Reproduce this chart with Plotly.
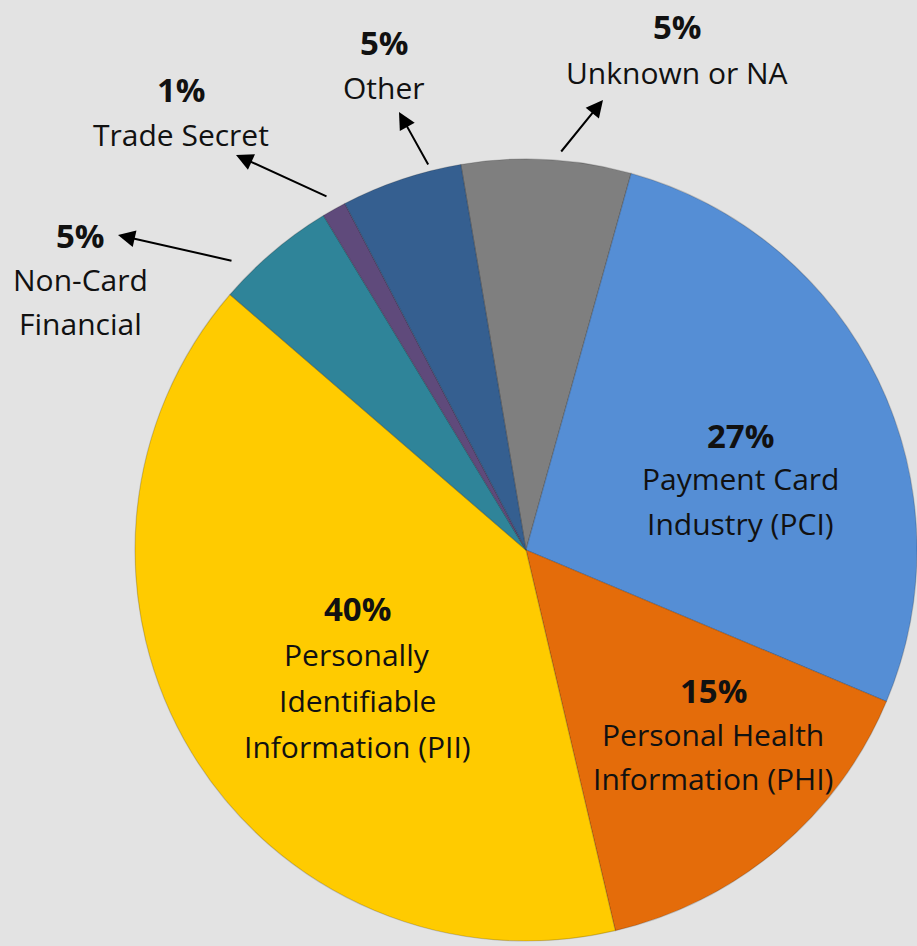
import plotly.graph_objects as go

# ---- data ----
categories = ["Unknown or NA", "Payment Card Industry (PCI)", "Personal Health Information (PHI)",
              "Personally Identifiable Information (PII)", "Non-Card Financial", "Trade Secret", "Other"]
values = [7, 27, 15, 40, 5, 1, 5]
pct_labels = ["5%", "27%", "15%", "40%", "5%", "1%", "5%"]
label_lines = [["Unknown or NA"], ["Payment Card", "Industry (PCI)"], ["Personal Health", "Information (PHI)"],
               ["Personally", "Identifiable", "Information (PII)"], ["Non-Card", "Financial"],
               ["Trade Secret"], ["Other"]]

# ---- styles / layout ----
colors = ["#7f7f7f", "#558ed5", "#e46c0a", "#ffcb00", "#2f8499", "#5f4a7b", "#355f90"]
W, H = 917, 946
BG = "#e3e3e3"
FONT = "Open Sans"
# text anchor (x, y of percent line, line spacing) per category, in pixels
text_pos = [(677, 27, 46), (740, 435, 44), (713, 690, 44), (357, 608, 46), (80, 235, 44), (181, 90, 45), (384, 42, 46)]
# arrows: (head_x, head_y, tail_x, tail_y) or None
arrows = [(603, 100, 560, 153), None, None, None, (118, 235, 233, 261), (236, 155, 328, 197), (399, 112, 429, 166)]

cx, cy, r = 526, 550, 391

fig = go.Figure(go.Pie(
    labels=categories, values=values, sort=False, direction="clockwise", rotation=-9.6,
    marker=dict(colors=colors, line=dict(color="rgba(0,0,0,0.18)", width=1.2)),
    textinfo="none", hoverinfo="label+value", showlegend=False,
    domain=dict(x=[(cx - r) / W, min(1, (cx + r) / W)], y=[(H - cy - r) / H, (H - cy + r) / H]),
))

ann = []
for pct, lines, (tx, ty, dy) in zip(pct_labels, label_lines, text_pos):
    ann.append(dict(x=tx / W, y=1 - ty / H, xref="paper", yref="paper", text="<b>%s</b>" % pct,
                    showarrow=False, font=dict(family=FONT, size=33, color="#111111"),
                    xanchor="center", yanchor="middle"))
    for i, ln in enumerate(lines):
        ann.append(dict(x=tx / W, y=1 - (ty + dy * (i + 1)) / H, xref="paper", yref="paper", text=ln,
                        showarrow=False, font=dict(family=FONT, size=30, color="#111111"),
                        xanchor="center", yanchor="middle"))
for a in arrows:
    if a is None:
        continue
    hx, hy, tx, ty = a
    ann.append(dict(x=hx / W, y=1 - hy / H, xref="paper", yref="paper", text="", showarrow=True,
                    ax=tx - hx, ay=ty - hy, arrowhead=2, arrowsize=1.7, arrowwidth=2, arrowcolor="#000000",
                    standoff=0, startstandoff=0))

fig.update_layout(width=W, height=H, margin=dict(l=0, r=0, t=0, b=0),
                  paper_bgcolor=BG, plot_bgcolor=BG, annotations=ann)
fig.write_html("out.html", config={"displayModeBar": False},
               post_script="document.body.style.margin='0px';")
